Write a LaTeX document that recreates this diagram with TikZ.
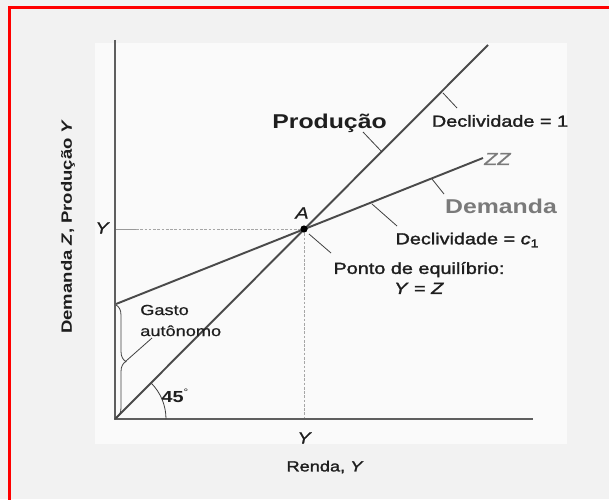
\documentclass[tikz,border=0pt]{standalone}
\usepackage{fontspec}
\setmainfont{Liberation Sans}[FakeStretch=1.24]
\newfontfamily\medfont{Liberation Sans}[FakeStretch=1.24,FakeBold=1.7]
\newfontfamily\lightmed{Liberation Sans}[FakeStretch=1.24,FakeBold=0.6]
\usetikzlibrary{decorations.pathreplacing}
\definecolor{bggray}{HTML}{F2F2F2}
\definecolor{inner}{HTML}{FAFAFA}
\definecolor{linegray}{HTML}{4A4A4A}
\definecolor{axisgray}{HTML}{5E5E5E}
\definecolor{txt}{HTML}{1E1E1E}
\definecolor{demgray}{HTML}{7A7A7A}
\definecolor{frame}{HTML}{FF0000}
\tikzset{
  curve/.style={draw=linegray, line width=1.45pt},
  axis/.style={draw=axisgray, line width=0.9pt},
  guide/.style={draw=gray!70, line width=0.55pt, dash pattern=on 2pt off 1.2pt},
  leader/.style={draw=txt!85, line width=0.6pt},
  lbl/.style={font=\medfont\fontsize{12}{15}\selectfont, text=txt, inner sep=0pt},
  biglbl/.style={font=\bfseries\fontsize{15}{18}\selectfont, inner sep=0pt},
  itlbl/.style={font=\lightmed\itshape\fontsize{12}{14}\selectfont, text=txt, inner sep=0pt},
}
\begin{document}
\begin{tikzpicture}[x=0.75pt,y=-0.75pt]
\useasboundingbox (0,0) rectangle (609,499);
\fill[bggray] (0,0) rectangle (609,499);
\fill[inner] (95,43) rectangle (567,444);
\draw[frame, line width=2.25pt] (9.5,510) -- (9.5,7.3) -- (620,7.3);

% key points
\coordinate (O) at (115,419);
\coordinate (ytop) at (115,40);
\coordinate (xend) at (533,419);
\coordinate (A) at (304,229);
\coordinate (prodEnd) at (488,45);
\coordinate (demStart) at (116,304);
\coordinate (demEnd) at (483,158);
\coordinate (yguide) at (115,229);
\coordinate (ytick) at (136,229);
\coordinate (xguide) at (304,419);

% guides
\draw[guide] (ytick) -- (A);
\draw[guide] (A) -- (xguide);
\draw[draw=gray!80, line width=0.6pt] (yguide) -- (ytick);

% axes
\draw[axis] (ytop) -- (O) -- (xend);

% 45 degree arc
\draw[draw=txt!85, line width=0.6pt] (166,419) arc[start angle=0, end angle=45, radius=38.25pt];

% lines
\draw[curve] (O) -- (prodEnd);
\draw[curve] (demStart) -- (demEnd);
\fill[black] (A) circle[radius=2.7pt];

% brace for autonomous spending
\draw[draw=txt!85, line width=0.6pt, decorate, decoration={brace, amplitude=7.5pt}] (116,305) -- (116,418);
\coordinate (braceTip) at (126,361);
\coordinate (gastoEnd) at (152,338);
\draw[leader] (braceTip) -- (gastoEnd);

% leader end points
\coordinate (prodOn) at (382,152);
\coordinate (prodLbl) at (363,132);
\coordinate (d1On) at (443,93);
\coordinate (d1Lbl) at (457,108);
\coordinate (demOn) at (432,179);
\coordinate (demLbl) at (444,194);
\coordinate (dcOn) at (372,204);
\coordinate (dcLbl) at (397,226);
\coordinate (aOn) at (309,234);
\coordinate (aLbl) at (331,253);
\draw[leader] (prodOn) -- (prodLbl);
\draw[leader] (d1On) -- (d1Lbl);
\draw[leader] (demOn) -- (demLbl);
\draw[leader] (dcOn) -- (dcLbl);
\draw[leader] (aOn) -- (aLbl);

% labels
\node[biglbl, text=txt] (prod) at (329.5,123) {Produção};
\node[lbl] (decl1) at (500,121) {Declividade = 1};
\node[font=\lightmed\itshape\fontsize{13}{15}\selectfont, text=demgray, inner sep=0pt, anchor=west] (zz) at (484,159) {ZZ};
\node[biglbl, text=demgray] (dem) at (501,206) {Demanda};
\node[lbl] (declc) at (467,240) {Declividade = \textit{c}\raisebox{-0.35ex}{\fontsize{8.5}{10}\selectfont 1}};
\node[lbl, align=center, font=\medfont\fontsize{12}{15}\selectfont] (eq) at (419,278) {Ponto de equilíbrio:\\\textit{Y} = \textit{Z}};
\node[itlbl] (alab) at (302,213) {A};
\node[itlbl] (yleft) at (102,228) {Y};
\node[itlbl] (ybot) at (304,438) {Y};
\node[lbl, font=\medfont\fontsize{11}{14}\selectfont] (renda) at (325,467) {Renda, \textit{Y}};
\node[font=\bfseries\fontsize{11.2}{13}\selectfont, text=txt, inner sep=0pt, rotate=90] (ylab) at (68,226.5) {Demanda \textit{Z}, Produção \textit{Y}};
\node[font=\lightmed\fontsize{11}{15.75}\selectfont, text=txt, inner sep=0pt, align=left, anchor=west] (gasto) at (140,320.5) {Gasto\\autônomo};
\node[font=\bfseries\fontsize{12}{14}\selectfont, text=txt, inner sep=0pt] (ang) at (175,396) {45\raisebox{0.9ex}{\fontsize{7}{8}\selectfont\mdseries °}};
\end{tikzpicture}
\end{document}
